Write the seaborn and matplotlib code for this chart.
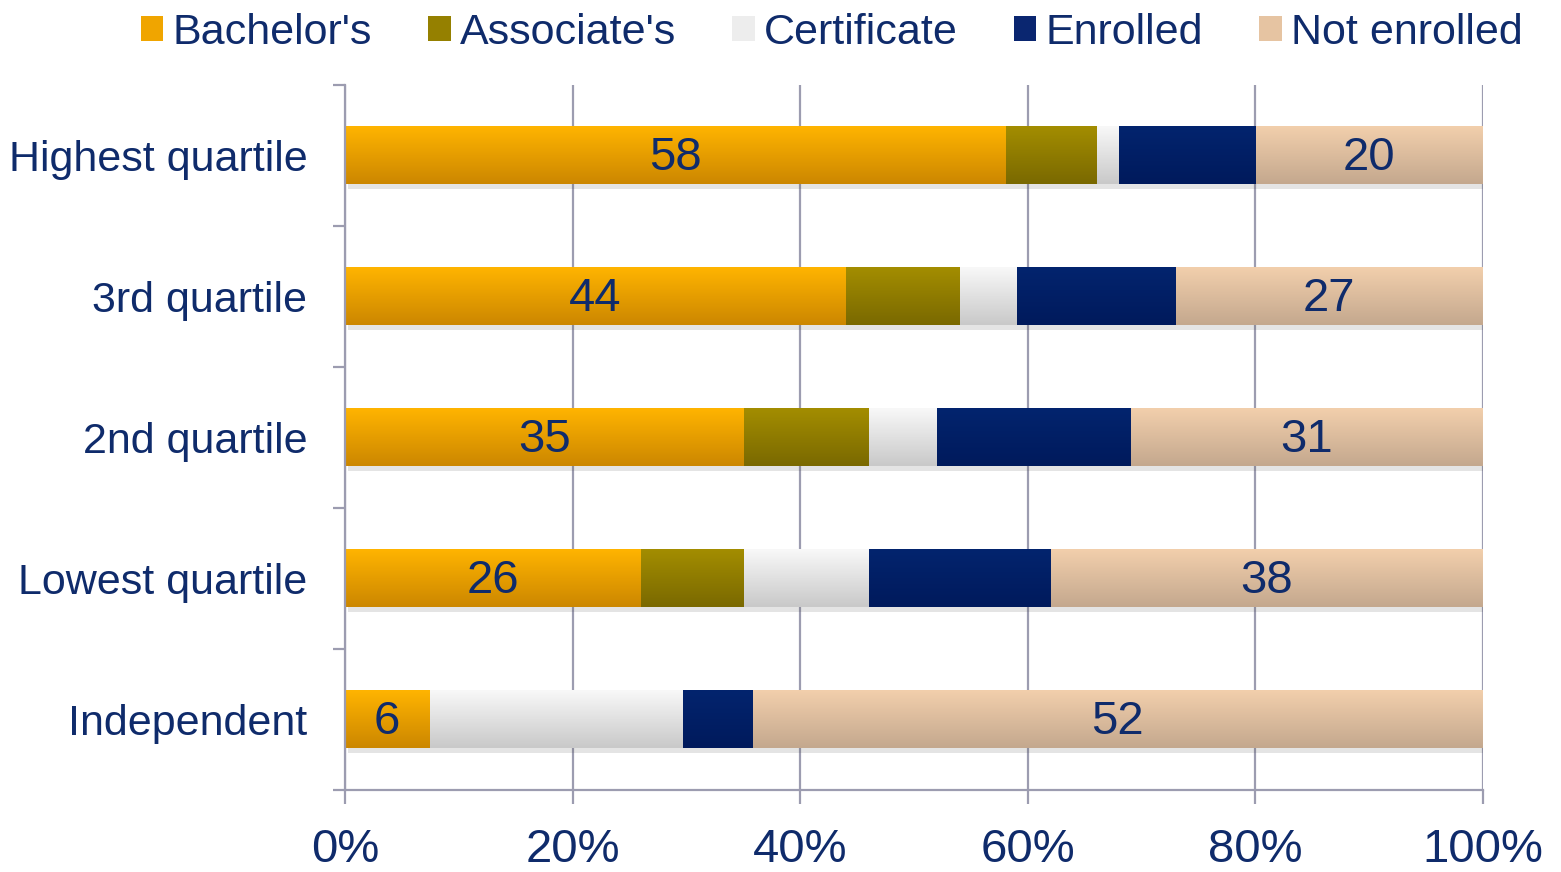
import numpy as np
import pandas as pd
import matplotlib
matplotlib.use("Agg")
import matplotlib.pyplot as plt
import matplotlib.patheffects as pe
from matplotlib.colors import LinearSegmentedColormap
from matplotlib.patches import Patch
import seaborn as sns

groups = ["Highest quartile", "3rd quartile", "2nd quartile", "Lowest quartile", "Independent"]
series = ["Bachelor's", "Associate's", "Certificate", "Enrolled", "Not enrolled"]
bachelors = [58, 44, 35, 26, 6]
associates = [8, 10, 11, 9, 0]
certificate = [2, 5, 6, 11, 18]
enrolled = [12, 14, 17, 16, 5]
not_enrolled = [20, 27, 31, 38, 52]
xticks = [0, 20, 40, 60, 80, 100]

# gradient top/bottom per series
tops = ["#FFB400", "#A38D00", "#F8F8F8", "#03246E", "#F2CFAC"]
bottoms = ["#CC8700", "#7A6900", "#C9C9C9", "#001A5C", "#C4A88E"]
solid = ["#F0A500", "#958000", "#EDEDED", "#0A2670", "#E6C4A2"]
text_color = "#0F2B6B"
grid_color = "#9C9CB0"

df = pd.DataFrame({"group": groups, "Bachelor's": bachelors, "Associate's": associates,
                   "Certificate": certificate, "Enrolled": enrolled, "Not enrolled": not_enrolled})
totals = df[series].sum(axis=1)
pct = df[series].div(totals, axis=0) * 100
cum = pct.cumsum(axis=1)
left = cum - pct

sns.set_style("white")
plt.rcParams["font.family"] = ["Liberation Sans", "DejaVu Sans"]

fig = plt.figure(figsize=(15.61, 8.72), dpi=100)
ax = fig.add_axes([0.221, 0.094, 0.729, 0.8085])

ax.grid(axis="x", color=grid_color, lw=1.6, zorder=0)
ax.set_axisbelow(True)

# draw cumulative bars, widest first so narrower ones sit on top
bar_h = 0.41
for i in range(len(series) - 1, -1, -1):
    s = series[i]
    plot_df = pd.DataFrame({"group": groups, "val": cum[s]})
    n_before = len(ax.patches)
    sns.barplot(data=plot_df, x="val", y="group", orient="h", color=solid[i],
                width=bar_h, ax=ax, linewidth=0, saturation=1, zorder=2 + (4 - i) * 0.1)
    new = ax.patches[n_before:]
    cmap = LinearSegmentedColormap.from_list(s, [tops[i], bottoms[i]])
    grad = np.linspace(0, 1, 64).reshape(-1, 1)
    for p in new:
        if i == len(series) - 1:
            p.set_path_effects([pe.SimplePatchShadow(offset=(2, -3), alpha=0.14, shadow_rgbFace="#444444"), pe.Normal()])
        x0, y0 = p.get_x(), p.get_y()
        w, h = p.get_width(), p.get_height()
        if w <= 0:
            continue
        ax.imshow(grad, extent=(x0, x0 + w, y0 + h, y0), origin="upper", aspect="auto",
                  cmap=cmap, zorder=2.05 + (4 - i) * 0.1, interpolation="bilinear")

ax.set_xlim(0, 100)
ax.set_ylim(4.5, -0.5)

# value labels for first and last segment
for r in range(len(groups)):
    for s in ["Bachelor's", "Not enrolled"]:
        ax.text(left.loc[r, s] + pct.loc[r, s] / 2, r + 0.02, str(df.loc[r, s]), ha="center", va="center",
                fontsize=34, color=text_color, zorder=5)

ax.set_xticks(xticks)
ax.set_xticklabels([f"{t}%" for t in xticks])
ax.set_yticks(range(len(groups)))
ax.set_yticklabels(groups)
ax.set_yticks(np.arange(-0.5, len(groups)), minor=True)
ax.tick_params(left=True, bottom=True, which="both")
ax.tick_params(axis="y", which="major", length=0, pad=27, labelsize=31, labelcolor=text_color)
ax.tick_params(axis="y", which="minor", length=9, width=1.6, color=grid_color, direction="out")
ax.tick_params(axis="x", which="major", length=10, width=1.6, color=grid_color, direction="out",
               pad=17, labelsize=34, labelcolor=text_color)
ax.set_xlabel("")
ax.set_ylabel("")

for side in ["top", "right"]:
    ax.spines[side].set_visible(False)
for side in ["left", "bottom"]:
    ax.spines[side].set_color(grid_color)
    ax.spines[side].set_linewidth(1.6)

handles = [Patch(facecolor=solid[i], edgecolor="none") for i in range(len(series))]
fig.legend(handles, series, loc="upper center", bbox_to_anchor=(0.533, 1.03), ncol=5, frameon=False,
           fontsize=31, labelcolor=text_color, handlelength=0.52, handleheight=0.52,
           handletextpad=0.22, columnspacing=1.3)

fig.savefig("out.png", dpi=100)
